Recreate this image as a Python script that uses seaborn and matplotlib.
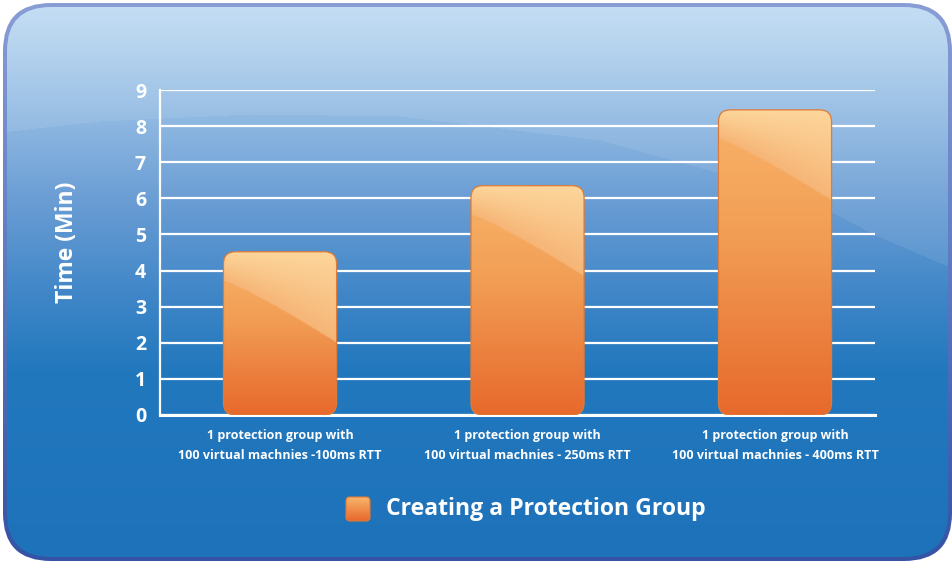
import numpy as np
import pandas as pd
import matplotlib
matplotlib.use("Agg")
import matplotlib.pyplot as plt
import seaborn as sns
from matplotlib.patches import FancyBboxPatch
from matplotlib.colors import to_rgb

# ---------------- data ----------------
categories = [
    "1 protection group with\n100 virtual machnies -100ms RTT",
    "1 protection group with\n100 virtual machnies - 250ms RTT",
    "1 protection group with\n100 virtual machnies - 400ms RTT",
]
times = [4.52, 6.35, 8.45]
y_ticks = [0, 1, 2, 3, 4, 5, 6, 7, 8, 9]
series_name = "Creating a Protection Group"
y_label = "Time (Min)"

# ---------------- style ----------------
sns.set_theme(style="white")
plt.rcParams['font.family'] = ['Open Sans', 'DejaVu Sans']

W, H = 952, 563
fig = plt.figure(figsize=(W / 100, H / 100), dpi=100)
fig.patch.set_facecolor("white")

# background axes in pixel coordinates
bg = fig.add_axes([0, 0, 1, 1])
bg.set_xlim(0, W)
bg.set_ylim(H, 0)
bg.axis("off")


def lerp_stops(t, stops):
    pos = np.array([s[0] for s in stops])
    cols = np.array([to_rgb(s[1]) for s in stops])
    out = np.stack([np.interp(t, pos, cols[:, k]) for k in range(3)], axis=-1)
    return out


# border (gradient)
border = FancyBboxPatch((3, 3), 949, 558, boxstyle="round,pad=0,rounding_size=48",
                        facecolor="none", edgecolor="none")
bg.add_patch(border)
yy = np.linspace(0, 1, H)
bcol = lerp_stops(yy, [(0, "#8a9ed6"), (0.5, "#5b78c0"), (1, "#3552a5")])
bimg = np.repeat(bcol[:, None, :], 4, axis=1)
im = bg.imshow(bimg, extent=(0, W, H, 0), aspect="auto", zorder=0, interpolation="bilinear")
im.set_clip_path(border)

# inner background gradient + wave highlight
inner = FancyBboxPatch((7, 7), 941, 550, boxstyle="round,pad=0,rounding_size=44",
                       facecolor="none", edgecolor="none")
bg.add_patch(inner)
ys = np.arange(H)
col = lerp_stops(ys, [(0, "#c0dcf3"), (40, "#b3d2ee"), (110, "#93bbe3"),
                      (200, "#6a9dd4"), (300, "#3d85c7"), (370, "#2278bd"),
                      (563, "#1d72ba")])
img = np.repeat(col[:, None, :], W, axis=1)
xs = np.arange(W)
wave = np.interp(xs, [0, 100, 250, 400, 600, 800, 875, 952],
                 [132, 121, 114, 116, 140, 195, 235, 268])
mask = ys[:, None] < wave[None, :]
img[mask] = img[mask] * 0.92 + 0.08
im2 = bg.imshow(img, extent=(0, W, H, 0), aspect="auto", zorder=1, interpolation="bilinear")
im2.set_clip_path(inner)


def bar_image(npx_h, npx_w):
    r = np.arange(npx_h)[:, None]
    c = np.arange(npx_w)[None, :]
    t = r / max(npx_h - 1, 1)
    base = lerp_stops(np.repeat(t, npx_w, axis=1),
                      [(0, "#f8b46a"), (0.4, "#f29f55"), (1, "#e7692c")])
    bound = 29 + 62 * (c / npx_w) ** 1.15
    hl = r < bound
    th = np.clip(r / bound, 0, 1)
    hcol = lerp_stops(th * np.ones((npx_h, npx_w)),
                      [(0, "#fdd69c"), (1, "#f6b576")])
    out = base.copy()
    hlb = np.broadcast_to(hl, (npx_h, npx_w))
    out[hlb] = hcol[hlb]
    return out


# ---------------- main axes ----------------
left_px, right_px, top_px, bot_px = 160, 875, 90, 415
ax = fig.add_axes([left_px / W, (H - bot_px) / H, (right_px - left_px) / W, (bot_px - top_px) / H])
ax.patch.set_alpha(0)

df = pd.DataFrame({"category": categories, "time": times})
sns.barplot(data=df, x="category", y="time", ax=ax, width=0.457, color="#f29f55",
            saturation=1, zorder=3)

xlim = (-0.485, 2.404)
ylim = (0, 9)
ax.set_xlim(*xlim)
ax.set_ylim(*ylim)

sx = (right_px - left_px) / (xlim[1] - xlim[0])  # px per x unit
sy = (bot_px - top_px) / (ylim[1] - ylim[0])     # px per y unit
rad = 12
for p in list(ax.patches):
    x0, w, h = p.get_x(), p.get_width(), p.get_height()
    p.set_visible(False)
    fb = FancyBboxPatch((x0, 0), w, h,
                        boxstyle=f"round,pad=0,rounding_size={rad / sx}",
                        mutation_aspect=sx / sy,
                        facecolor="none", edgecolor="#dd7b38", linewidth=0.9, zorder=5)
    ax.add_patch(fb)
    clip = FancyBboxPatch((x0, 0), w, h,
                          boxstyle=f"round,pad=0,rounding_size={rad / sx}",
                          mutation_aspect=sx / sy,
                          facecolor="none", edgecolor="none", transform=ax.transData)
    ax.add_patch(clip)
    arr = bar_image(int(round(h * sy)), int(round(w * sx)))
    bi = ax.imshow(arr, extent=(x0, x0 + w, 0, h), aspect="auto", zorder=4,
                   interpolation="bilinear", origin="upper")
    bi.set_clip_path(clip)

ax.set_xlim(*xlim)
ax.set_ylim(*ylim)

# grid & spines
ax.set_yticks(y_ticks)
ax.yaxis.grid(True, color="white", linewidth=1.6, zorder=1)
ax.xaxis.grid(False)
ax.set_axisbelow(True)
for s in ["top", "right"]:
    ax.spines[s].set_visible(False)
ax.spines["left"].set_color("white")
ax.spines["left"].set_linewidth(1.6)
ax.spines["bottom"].set_color("white")
ax.spines["bottom"].set_linewidth(2.2)

ax.tick_params(axis="y", length=0, pad=10, labelsize=14, labelcolor="white")
for lbl in ax.get_yticklabels():
    lbl.set_fontweight("bold")
ax.tick_params(axis="x", which="major", length=0, pad=10, labelsize=9, labelcolor="white")
for lbl in ax.get_xticklabels():
    lbl.set_fontweight("bold")
    lbl.set_linespacing(1.7)
ax.set_xticks([0.5, 1.5], minor=True)
ax.tick_params(axis="x", which="minor", length=6, width=1.3, color="white", direction="out")

ax.set_xlabel("")
ax.set_ylabel(y_label, fontsize=16.5, fontweight="bold", color="white")
ax.yaxis.label.set_verticalalignment("center")
ax.yaxis.set_label_coords((67 - left_px) / (right_px - left_px), (bot_px - 242) / (bot_px - top_px))

# ---------------- legend ----------------
lg = FancyBboxPatch((346, 497), 24, 24, boxstyle="round,pad=0,rounding_size=4",
                    facecolor="none", edgecolor="#dd7b38", linewidth=0.8, zorder=5)
bg.add_patch(lg)
lgc = FancyBboxPatch((346, 497), 24, 24, boxstyle="round,pad=0,rounding_size=4",
                     facecolor="none", edgecolor="none")
bg.add_patch(lgc)
larr = lerp_stops(np.linspace(0, 1, 24), [(0, "#f8b46a"), (1, "#e7692c")])
larr = np.repeat(larr[:, None, :], 24, axis=1)
li = bg.imshow(larr, extent=(346, 370, 521, 497), aspect="auto", zorder=4, interpolation="bilinear")
li.set_clip_path(lgc)
bg.text(386, 509, series_name, fontsize=16.6, fontweight="bold", color="white",
        va="center", ha="left", zorder=6)
bg.set_xlim(0, W)
bg.set_ylim(H, 0)

fig.savefig("out.png", dpi=100)
